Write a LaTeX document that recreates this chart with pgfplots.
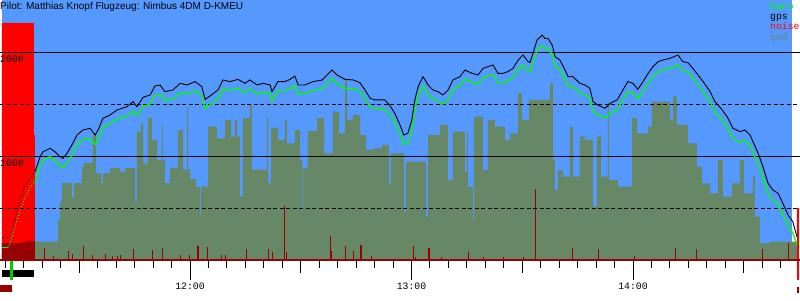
\documentclass[border=0pt]{standalone}
\usepackage{fontspec}
\setmainfont{Liberation Sans}
\newfontfamily\monofont{Liberation Mono}
\usepackage{pgfplots}
\pgfplotsset{compat=1.18}
\definecolor{sky}{RGB}{85,153,255}
\definecolor{gndc}{RGB}{102,136,102}
\definecolor{darkred}{RGB}{153,0,0}
\definecolor{baroc}{RGB}{0,255,0}
\begin{document}
\begin{tikzpicture}
\begin{axis}[
  scale only axis, width=800pt, height=260pt,
  xmin=668.53, xmax=885.24, ymin=0, ymax=2500,
  axis x line=bottom, axis y line=none,
  x axis line style={draw=darkred, line width=2pt, -},
  xtick={720,780,840}, xticklabels={},
  minor xtick={670,675,...,880},
  extra x ticks={690,750,810,870}, extra x tick labels={},
  extra x tick style={major tick length=13pt},
  tick align=outside, major tick length=20pt, minor tick length=8pt,
  tick style={black, line width=1pt},
  clip=false, axis on top,
]
% sky background
\fill[sky] (axis cs:669.07,0) rectangle (axis cs:883.07,2500);
% ground
\addplot[const plot, fill=gndc, draw=none] coordinates {(669.07,163) (677.74,176) (684.24,385) (684.78,561) (685.33,740) (688.03,600) (688.58,740) (690.74,897) (691.28,936) (693.72,1202) (694.53,836) (695.89,740) (696.43,836) (698.33,885) (701.04,850) (702.39,885) (705.1,558) (705.64,1234) (706.72,1317) (707.27,929) (708.62,1365) (709.70,1154) (711.06,961) (712.41,1298) (712.68,961) (713.22,740) (714.58,885) (716.75,1250) (718.1,870) (719.19,1474) (719.46,870) (720.0,780) (721.63,700) (722.71,433) (722.98,706) (724.88,1282) (727.32,1170) (729.48,1346) (731.11,1186) (732.18,1346) (732.73,1186) (733.54,610) (734.35,1365) (736.25,1490) (736.79,870) (739.77,870) (740.85,1365) (741.13,740) (741.94,1270) (743.83,1154) (745.73,1346) (746.27,1122) (748.44,1250) (749.79,961) (750.34,465) (750.6,885) (751.96,1240) (754.4,1365) (756.3,1026) (758.73,1426) (760.36,1218) (761.99,1731) (762.53,1346) (764.15,1394) (766.05,1202) (767.67,1058) (769.57,1074) (772.0,1106) (773.9,737) (774.44,1026) (777.97,465) (778.51,945) (783.93,417) (784.47,1202) (787.72,1298) (789.88,769) (791.24,1234) (794.48,850) (795.03,1234) (795.3,706) (796.65,385) (796.93,1378) (799.36,865) (800.72,1346) (802.61,1282) (805.32,1150) (806.68,1218) (808.85,1603) (809.93,1346) (811.83,1539) (817.51,1699) (818.33,961) (818.87,673) (819.68,865) (821.03,801) (822.93,1282) (823.74,801) (825.64,1186) (826.99,1154) (829.16,513) (830.24,1186) (831.33,801) (833.22,1522) (833.49,769) (835.93,705) (839.73,1365) (841.08,1218) (844.06,1282) (845.14,1522) (850.02,1346) (850.83,1571) (851.91,1300) (854.89,1122) (857.33,897) (858.69,737) (860.85,641) (863.02,961) (864.37,609) (866.81,737) (868.98,961) (870.06,641) (872.5,801) (873.04,417) (874.4,160) (877.11,176) (884.42,176)} \closedcycle;
% noise (high, red)
\addplot[const plot, fill=red, draw=none] coordinates {(669.07,2279) (677.74,1202) (678.0,1202)} \closedcycle;
\addplot[const plot, fill=red, draw=none] coordinates {(884.42,500) (884.96,500)} \closedcycle;
% noise (low, dark red)
\addplot[const plot, fill=darkred, draw=none] coordinates {(669.07,163) (674.49,173) (675.84,183) (678.01,183)} \closedcycle;
\addplot[ycomb, darkred, line width=0.9pt] coordinates {(680.45,115) (682.89,40) (686.95,85) (688.03,60) (691.01,135) (693.45,50) (696.97,60) (698.87,40) (700.22,40) (701.04,50) (704.56,110) (709.7,95) (712.41,115) (717.29,50) (719.73,50) (721.9,130) (722.17,130) (724.6,125) (728.4,50) (729.48,50) (735.17,110) (741.13,106) (742.21,80) (745.46,519) (746.0,80) (757.92,231) (758.19,90) (761.99,130) (764.15,90) (766.05,148) (766.32,148) (769.03,40) (780.4,135) (780.95,30) (784.47,115) (784.74,115) (787.99,30) (795.3,80) (799.36,30) (804.78,30) (810.2,30) (813.45,683) (823.47,115) (830.51,110) (840.27,40) (851.37,120) (857.06,110) (874.94,110) (881.98,163)};
% grid lines
\draw[black, line width=1pt] (axis cs:668.53,2000) -- (axis cs:885.24,2000);
\draw[black, line width=1pt] (axis cs:668.53,1000) -- (axis cs:885.24,1000);
\draw[black, line width=1pt, dash pattern=on 4pt off 2.5pt] (axis cs:668.53,1500) -- (axis cs:885.24,1500);
\draw[black, line width=1pt, dash pattern=on 4pt off 2.5pt] (axis cs:668.53,500) -- (axis cs:885.24,500);
% baro
\addplot[baroc, line width=1pt] coordinates {(669.07,122) (670.7,122)};
\addplot[baroc, line width=1pt, dotted] coordinates {(670.7,122) (671.2,160) (672.6,320) (673.9,470) (675.3,600) (676.7,700) (678.0,753)};
\addplot[baroc, line width=1.3pt] coordinates {(678.0,753) (679.4,905) (680.2,960) (682.1,994) (683.4,960) (684.8,905) (685.6,890) (686.7,935) (688.0,1010) (689.4,1110) (691.0,1160) (692.9,1170) (694.3,1110) (695.1,1160) (696.4,1275) (698.3,1310) (700.2,1355) (702.9,1385) (704.6,1430) (705.6,1390) (707.3,1475) (709.2,1500) (710.5,1585) (711.9,1595) (713.2,1530) (715.4,1550) (717.3,1610) (719.2,1595) (721.4,1625) (723.2,1580) (724.1,1455) (725.4,1490) (727.6,1550) (728.9,1645) (730.8,1630) (733.0,1650) (734.9,1610) (736.2,1645) (738.2,1595) (739.8,1615) (741.7,1600) (742.2,1530) (743.8,1630) (745.7,1630) (747.1,1650) (748.4,1680) (749.3,1595) (751.1,1600) (753.3,1630) (755.8,1645) (757.1,1695) (758.5,1745) (759.8,1695) (762.0,1650) (764.2,1645) (766.0,1620) (767.4,1550) (768.8,1470) (770.1,1455) (772.8,1450) (774.2,1395) (775.5,1320) (776.9,1210) (777.9,1110) (779.0,1125) (780.1,1260) (780.9,1450) (781.8,1580) (783.1,1675) (784.5,1595) (785.8,1545) (787.2,1530) (788.5,1500) (789.9,1545) (791.2,1645) (793.1,1675) (794.5,1740) (796.4,1710) (798.0,1690) (799.4,1755) (800.7,1770) (802.1,1785) (803.4,1705) (804.8,1705) (806.1,1720) (807.5,1755) (808.9,1835) (810.2,1880) (811.6,1815) (812.1,1810) (812.9,1895) (814.0,2020) (815.4,2065) (816.1,2035) (817.0,2035) (818.1,1975) (818.9,1860) (820.2,1830) (821.6,1735) (822.4,1670) (823.7,1670) (825.6,1605) (827.0,1590) (828.3,1560) (829.2,1430) (830.5,1395) (832.4,1365) (833.8,1410) (835.7,1445) (837.0,1525) (838.6,1620) (840.0,1605) (841.3,1550) (842.7,1620) (844.1,1700) (845.4,1765) (846.8,1810) (848.1,1830) (850.0,1845) (852.2,1875) (853.5,1815) (854.9,1805) (856.2,1750) (857.6,1685) (859.0,1620) (860.9,1525) (862.2,1425) (863.6,1370) (865.5,1280) (867.1,1165) (869.0,1130) (870.3,1150) (871.7,1100) (872.5,1035) (873.9,920) (875.2,790) (876.6,640) (877.9,570) (879.3,540) (880.6,440) (882.0,330) (883.3,260) (884.4,144)};
% gps
\addplot[black, line width=1pt, dotted] coordinates {(669.07,212) (670.7,212) (671.5,260) (672.6,385) (673.9,577) (675.3,700) (676.7,790) (678.0,849)};
\addplot[black, line width=0.9pt] coordinates {(678.0,849) (679.4,993) (680.2,1041) (682.1,1074) (683.4,1041) (684.8,993) (685.6,978) (686.7,1026) (688.0,1106) (689.4,1202) (691.0,1250) (692.9,1266) (694.3,1202) (695.1,1250) (696.4,1362) (698.3,1394) (700.2,1442) (702.9,1474) (704.6,1522) (705.6,1474) (707.3,1564) (709.2,1587) (710.5,1673) (711.9,1683) (713.2,1619) (715.4,1635) (717.3,1699) (719.2,1683) (721.4,1715) (723.2,1667) (724.1,1545) (725.4,1577) (727.6,1635) (728.9,1731) (730.8,1715) (733.0,1737) (734.9,1699) (736.2,1731) (738.2,1683) (739.8,1699) (741.7,1683) (742.2,1619) (743.8,1715) (745.7,1715) (747.1,1737) (748.4,1769) (749.3,1683) (751.1,1683) (753.3,1715) (755.8,1731) (757.1,1779) (758.5,1827) (759.8,1779) (762.0,1737) (764.2,1731) (766.0,1706) (767.4,1635) (768.8,1555) (770.1,1539) (772.8,1539) (774.2,1481) (775.5,1410) (776.9,1298) (777.9,1202) (779.0,1218) (780.1,1346) (780.9,1539) (781.8,1667) (783.1,1763) (784.5,1683) (785.8,1635) (787.2,1619) (788.5,1587) (789.9,1635) (791.2,1731) (793.1,1763) (794.5,1827) (796.4,1795) (798.0,1779) (799.4,1843) (800.7,1859) (802.1,1875) (803.4,1795) (804.8,1795) (806.1,1811) (807.5,1843) (808.9,1923) (810.2,1971) (811.6,1907) (812.1,1900) (812.9,1987) (814.0,2115) (815.4,2163) (816.1,2131) (817.0,2131) (818.1,2067) (818.9,1955) (820.2,1923) (821.6,1827) (822.4,1763) (823.7,1763) (825.6,1699) (827.0,1683) (828.3,1651) (829.2,1522) (830.5,1490) (832.4,1458) (833.8,1506) (835.7,1539) (837.0,1619) (838.6,1715) (840.0,1699) (841.3,1641) (842.7,1715) (844.1,1795) (845.4,1859) (846.8,1907) (848.1,1923) (850.0,1939) (852.2,1971) (853.5,1907) (854.9,1897) (856.2,1843) (857.6,1779) (859.0,1715) (860.9,1619) (862.2,1522) (863.6,1468) (865.5,1378) (867.1,1266) (869.0,1234) (870.3,1250) (871.7,1202) (872.5,1138) (873.9,1026) (875.2,897) (876.6,737) (877.9,673) (879.3,641) (880.6,545) (882.0,433) (883.3,368) (884.4,224)};
% texts
\node[anchor=north west, inner sep=0pt, font=\fontsize{10pt}{12pt}\selectfont] at (axis cs:668.53,2485) {Pilot: Matthias Knopf Flugzeug: Nimbus 4DM D-KMEU};
\node[anchor=base west, inner sep=0pt, font=\monofont\fontsize{9.8pt}{10pt}\selectfont] at (axis cs:668.53,1897) {2000};
\node[anchor=base west, inner sep=0pt, font=\monofont\fontsize{9.8pt}{10pt}\selectfont] at (axis cs:668.53,897) {1000};
\node[anchor=base west, inner sep=0pt, text=baroc, font=\monofont\fontsize{9.8pt}{10pt}\selectfont] at (axis cs:877.11,2404) {baro};
\node[anchor=base west, inner sep=0pt, text=black, font=\monofont\fontsize{9.8pt}{10pt}\selectfont] at (axis cs:877.11,2308) {gps};
\node[anchor=base west, inner sep=0pt, text=red, font=\monofont\fontsize{9.8pt}{10pt}\selectfont] at (axis cs:877.11,2212) {noise};
\node[anchor=base west, inner sep=0pt, text=gndc, font=\monofont\fontsize{9.8pt}{10pt}\selectfont] at (axis cs:877.11,2115) {gnd};
\node[anchor=base, inner sep=0pt, font=\monofont\fontsize{9.8pt}{10pt}\selectfont] at (axis cs:720,-288) {12:00};
\node[anchor=base, inner sep=0pt, font=\monofont\fontsize{9.8pt}{10pt}\selectfont] at (axis cs:780,-288) {13:00};
\node[anchor=base, inner sep=0pt, font=\monofont\fontsize{9.8pt}{10pt}\selectfont] at (axis cs:840,-288) {14:00};
% markers below the axis
\fill[black] (axis cs:669.07,-96) rectangle (axis cs:677.74,-163);
\fill[baroc!80!black] (axis cs:671.24,-10) rectangle (axis cs:672.05,-192);
\fill[darkred] (axis cs:668.53,-240) rectangle (axis cs:671.78,-308);
\fill[red] (axis cs:884.42,0) rectangle (axis cs:884.96,-192);
\fill[darkred] (axis cs:884.55,-260) rectangle (axis cs:884.96,-317);
\coordinate (bbsw) at (axis cs:668.53,-384.6);
\coordinate (bbne) at (axis cs:885.24,2500);
\end{axis}
\pgfresetboundingbox
\path[use as bounding box] (bbsw) rectangle (bbne);
\end{tikzpicture}
\end{document}
